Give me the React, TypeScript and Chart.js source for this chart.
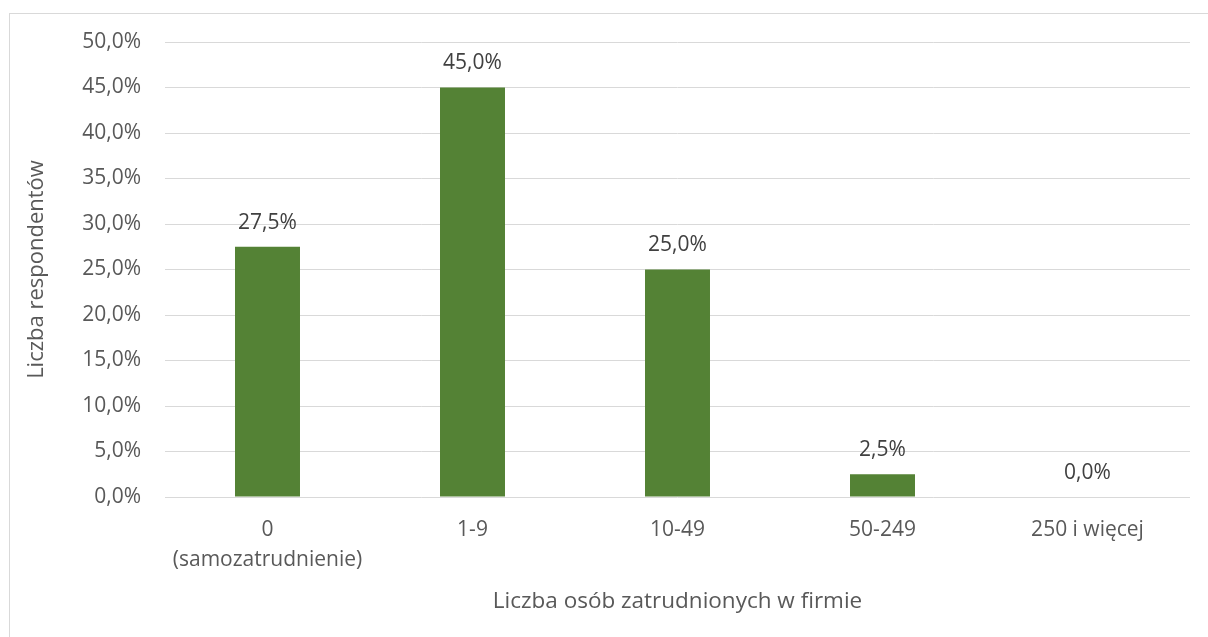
import React, { useEffect, useRef } from "react";
import { Chart, registerables } from "chart.js";

Chart.register(...registerables);

const categories: (string | string[])[] = [
  ["0", "(samozatrudnienie)"],
  "1-9",
  "10-49",
  "50-249",
  "250 i więcej",
];
const values: number[] = [27.5, 45.0, 25.0, 2.5, 0.0];
const yTicks: number[] = [0, 5, 10, 15, 20, 25, 30, 35, 40, 45, 50];

const FONT = "'Open Sans', 'DejaVu Sans', sans-serif";
const fmt = (v: number) => v.toFixed(1).replace(".", ",") + "%";

const dataLabels = {
  id: "dataLabels",
  afterDatasetsDraw(chart: any) {
    const ctx = chart.ctx;
    const meta = chart.getDatasetMeta(0);
    ctx.save();
    ctx.font = `21px ${FONT}`;
    ctx.fillStyle = "#404040";
    ctx.textAlign = "center";
    ctx.textBaseline = "middle";
    meta.data.forEach((el: any, i: number) => {
      ctx.fillText(fmt(values[i]), el.x, el.y - 24);
    });
    ctx.restore();
  },
};

export default function App() {
  const ref = useRef<HTMLCanvasElement>(null);
  useEffect(() => {
    if (!ref.current) return;
    const chart = new Chart(ref.current, {
      type: "bar",
      data: {
        labels: categories,
        datasets: [
          {
            data: values,
            backgroundColor: "#548235",
            borderWidth: 0,
            barPercentage: 0.317,
            categoryPercentage: 1,
          },
        ],
      },
      plugins: [dataLabels],
      options: {
        responsive: false,
        animation: false,
        layout: { padding: { left: 24, top: 42, right: 18, bottom: 0 } },
        plugins: { legend: { display: false }, tooltip: { enabled: false } },
        scales: {
          x: {
            grid: { display: false, drawTicks: false },
            border: { display: false },
            ticks: {
              color: "#595959",
              font: { family: FONT, size: 21, lineHeight: 1.43 },
              padding: 18,
              maxRotation: 0,
              autoSkip: false,
            },
            title: {
              display: true,
              text: "Liczba osób zatrudnionych w firmie",
              color: "#595959",
              font: { family: FONT, size: 22.5, lineHeight: 1.2 },
              padding: { top: 0, bottom: 22 },
            },
            afterFit(scale: any) {
              scale.height = 140;
            },
          },
          y: {
            min: 0,
            max: 50,
            afterBuildTicks(scale: any) {
              scale.ticks = yTicks.map((v) => ({ value: v }));
            },
            grid: { color: "#d9d9d9", lineWidth: 1, drawTicks: false },
            border: { display: false },
            ticks: {
              color: "#595959",
              font: { family: FONT, size: 21 },
              padding: 24,
              callback: (v: any) => fmt(Number(v)),
            },
            title: {
              display: true,
              text: "Liczba respondentów",
              color: "#595959",
              font: { family: FONT, size: 22, lineHeight: 1.2 },
              padding: { top: 0, bottom: 0 },
            },
            afterFit(scale: any) {
              scale.width = 141;
            },
          },
        },
      },
    });
    return () => chart.destroy();
  }, []);
  return (
    <div
      style={{
        position: "fixed",
        left: 0,
        top: 0,
        width: 1208,
        height: 637,
        overflow: "hidden",
        background: "#fff",
      }}
    >
      <div
        style={{
          position: "absolute",
          left: 9,
          top: 13,
          width: 1300,
          height: 700,
          border: "1px solid #d9d9d9",
        }}
      />
      <canvas
        ref={ref}
        width={1208}
        height={637}
        style={{ position: "absolute", left: 0, top: 0, width: 1208, height: 637 }}
      />
    </div>
  );
}
